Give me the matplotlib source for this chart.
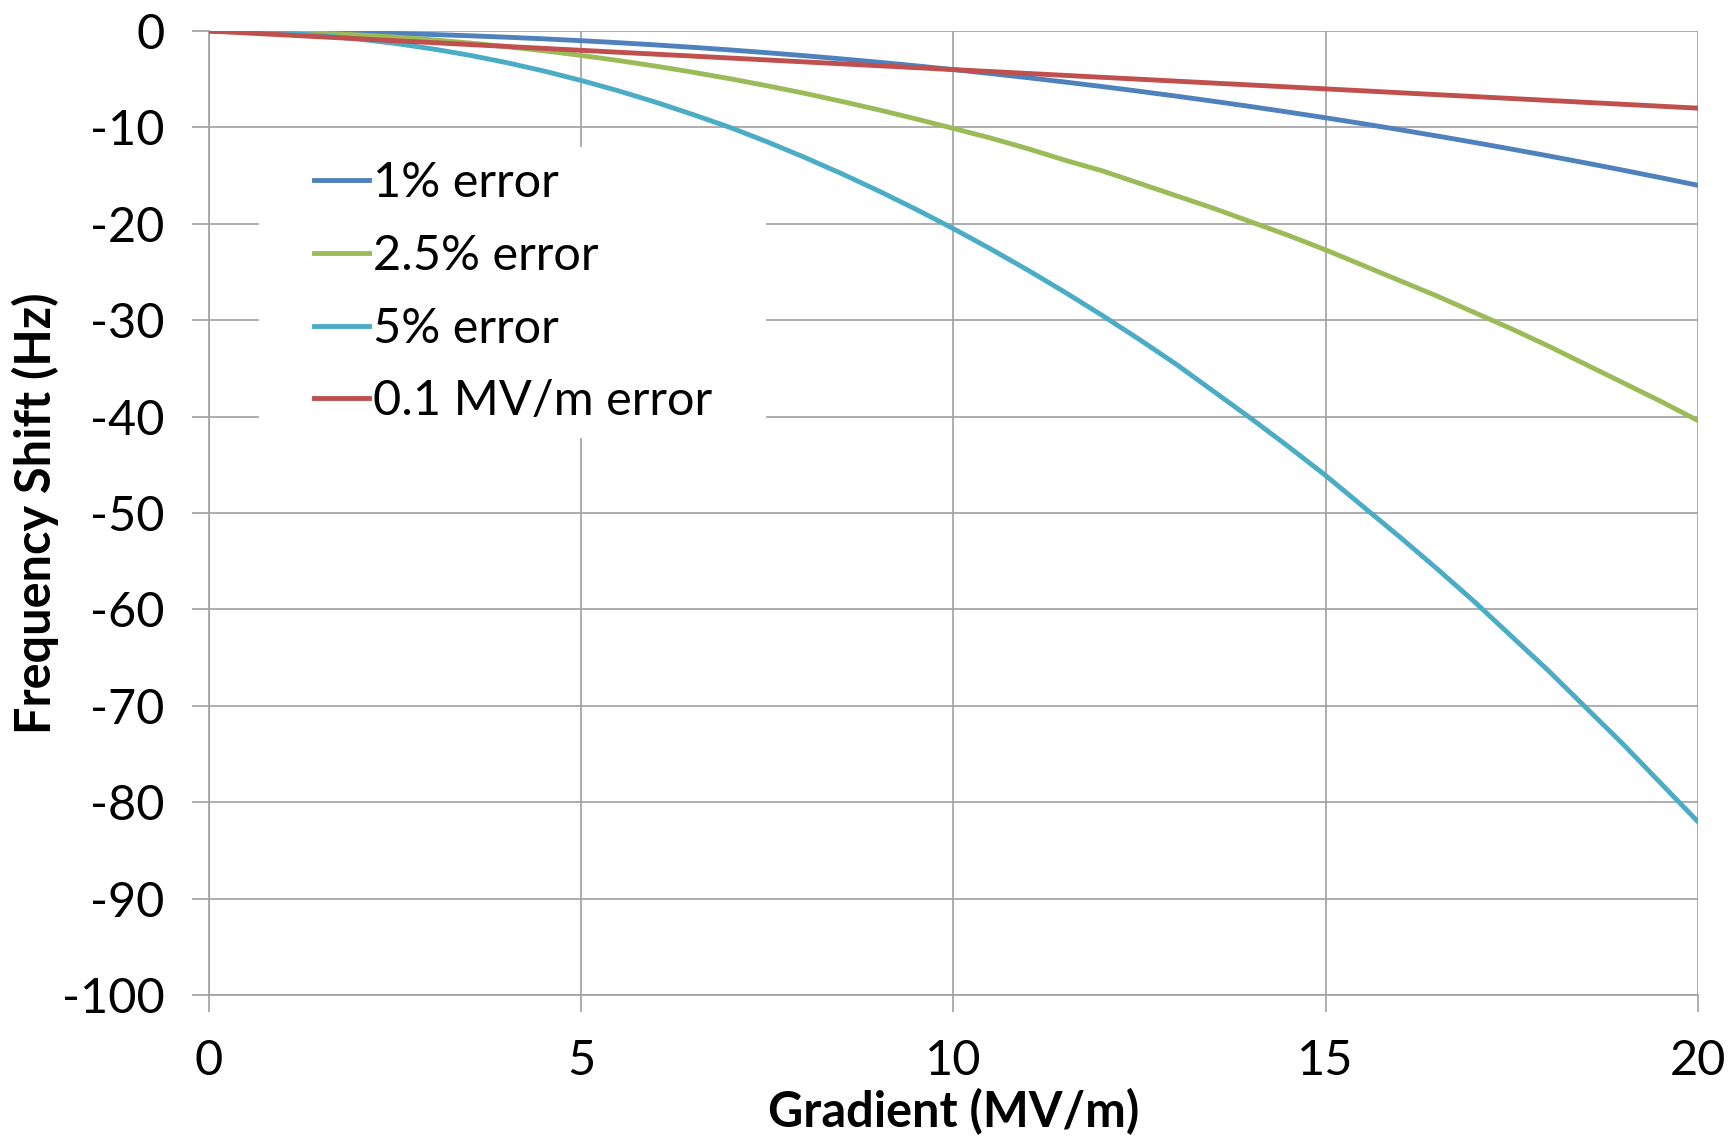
import matplotlib.pyplot as plt
from matplotlib.patches import Rectangle

plt.rcParams['font.family'] = ['Lato', 'DejaVu Sans']
plt.rcParams['axes.unicode_minus'] = False

# gradient in MV/m, read every 0.5
gradient = [0, 0.5, 1, 1.5, 2, 2.5, 3, 3.5, 4, 4.5, 5, 5.5, 6, 6.5, 7, 7.5, 8, 8.5, 9, 9.5, 10,
            10.5, 11, 11.5, 12, 12.5, 13, 13.5, 14, 14.5, 15, 15.5, 16, 16.5, 17, 17.5, 18,
            18.5, 19, 19.5, 20]
err_1 = [0, -0.01, -0.04, -0.09, -0.16, -0.25, -0.36, -0.49, -0.64, -0.81, -1.0, -1.21,
         -1.44, -1.69, -1.96, -2.25, -2.56, -2.89, -3.24, -3.61, -4.0, -4.41, -4.84, -5.29,
         -5.76, -6.25, -6.76, -7.29, -7.84, -8.41, -9.0, -9.61, -10.24, -10.89, -11.56,
         -12.25, -12.96, -13.69, -14.44, -15.21, -16.0]
err_25 = [0, -0.03, -0.1, -0.23, -0.4, -0.63, -0.91, -1.24, -1.62, -2.05, -2.53, -3.06,
          -3.64, -4.27, -4.95, -5.68, -6.46, -7.3, -8.18, -9.12, -10.1, -11.1, -12.2, -13.4,
          -14.5, -15.8, -17.1, -18.4, -19.8, -21.2, -22.7, -24.3, -25.9, -27.5, -29.2,
          -30.9, -32.7, -34.6, -36.5, -38.4, -40.4]
err_5 = [0, -0.05, -0.2, -0.46, -0.82, -1.28, -1.85, -2.51, -3.28, -4.15, -5.13, -6.2,
         -7.38, -8.66, -10.0, -11.5, -13.1, -14.8, -16.6, -18.5, -20.5, -22.6, -24.8, -27.1,
         -29.5, -32.0, -34.6, -37.4, -40.2, -43.1, -46.1, -49.3, -52.5, -55.8, -59.2,
         -62.8, -66.4, -70.2, -74.0, -78.0, -82.0]
err_01 = [0, -0.2, -0.4, -0.6, -0.8, -1.0, -1.2, -1.4, -1.6, -1.8, -2.0, -2.2, -2.4, -2.6,
          -2.8, -3.0, -3.2, -3.4, -3.6, -3.8, -4.0, -4.2, -4.4, -4.6, -4.8, -5.0, -5.2, -5.4,
          -5.6, -5.8, -6.0, -6.2, -6.4, -6.6, -6.8, -7.0, -7.2, -7.4, -7.6, -7.8, -8.0]

labels = ['1% error', '2.5% error', '5% error', '0.1 MV/m error']
colors = ['#4F81BD', '#9BBB59', '#4BACC6', '#C0504D']

fig = plt.figure(figsize=(17.29, 11.37), dpi=100)
ax = fig.add_axes([0.1209, 0.1249, 0.861, 0.8478])

for y, lab, c in zip([err_1, err_25, err_5, err_01], labels, colors):
    ax.plot(gradient, y, color=c, linewidth=3.5, label=lab, zorder=3)

ax.set_xlim(0, 20)
ax.set_ylim(-100, 0)
ax.set_xticks([0, 5, 10, 15, 20])
ax.set_yticks(range(-100, 1, 10))
ax.grid(True, color='#A0A0A0', linewidth=1.2)
ax.set_axisbelow(True)
for s in ['top', 'right']:
    ax.spines[s].set_visible(False)
for s in ['left', 'bottom']:
    ax.spines[s].set_color('#A0A0A0')
    ax.spines[s].set_linewidth(1.2)
ax.tick_params(direction='out', length=12, width=1.2, color='#A0A0A0',
               labelsize=35, pad=20)

ax.set_xlabel('Gradient (MV/m)', fontsize=35, fontweight='bold', labelpad=3)
ax.set_ylabel('Frequency Shift (Hz)', fontsize=35, fontweight='bold', labelpad=2)

# white box behind the legend, hiding the grid
ax.add_patch(Rectangle((0.0336, 0.5778), 0.3405, 0.3019, transform=ax.transAxes,
                       facecolor='white', edgecolor='none', zorder=1))
ax.legend(loc='upper left', bbox_to_anchor=(0.0638, 0.875), fontsize=35,
          frameon=False, handlelength=1.13, handletextpad=0.08,
          labelspacing=0.59, borderpad=0.2, borderaxespad=0)

fig.savefig('out.png')
